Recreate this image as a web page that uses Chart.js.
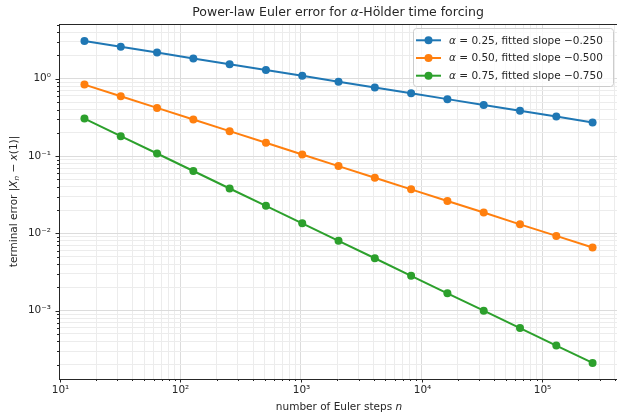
<!DOCTYPE html>
<html>
<head>
<meta charset="utf-8">
<script src="https://cdn.jsdelivr.net/npm/chart.js@4"></script>
<style>
  html, body { margin: 0; padding: 0; background: #fff; }
  canvas { display: block; }
</style>
</head>
<body>
<canvas id="errChart" width="617" height="413"></canvas>
<script>
// number of Euler steps n
const steps = [16, 32, 64, 128, 256, 512, 1024, 2048, 4096, 8192, 16384, 32768, 65536, 131072, 262144];

// terminal error
const errA025 = [3.08, 2.59, 2.18, 1.83, 1.54, 1.30, 1.09, 0.916, 0.770, 0.648, 0.545, 0.458, 0.385, 0.324, 0.272];
const errA050 = [0.84, 0.594, 0.420, 0.297, 0.210, 0.1485, 0.105, 0.0742, 0.0525, 0.0371, 0.0263, 0.0186, 0.0131, 0.00928, 0.00656];
const errA075 = [0.305, 0.181, 0.108, 0.0641, 0.0381, 0.0227, 0.0135, 0.00801, 0.00477, 0.00283, 0.00168, 0.00100, 0.000596, 0.000354, 0.000211];

const alphas = ["0.25", "0.50", "0.75"];
const slopes = ["−0.250", "−0.500", "−0.750"];
const seriesColors = ["#1f77b4", "#ff7f0e", "#2ca02c"];

const FONT = '"DejaVu Sans", sans-serif';
const INK = "#262626";

// text runs, some in italic (math parts in the original)
const titleRuns = [{ t: "Power-law Euler error for " }, { t: "α", i: 1 }, { t: "-Hölder time forcing" }];
const xTitleRuns = [{ t: "number of Euler steps " }, { t: "n", i: 1 }];
const yTitleRuns = [{ t: "terminal error |" }, { t: "X", i: 1 }, { t: "n", i: 1, sub: 1 }, { t: " − " }, { t: "x", i: 1 }, { t: "(1)|" }];

// superscript helper for 10^k labels
const supMap = { "-": "⁻", "0": "⁰", "1": "¹", "2": "²", "3": "³", "4": "⁴", "5": "⁵", "6": "⁶", "7": "⁷", "8": "⁸", "9": "⁹" };
const powLabel = k => "10" + String(k).split("").map(c => supMap[c]).join("");

const isPow10 = v => Math.abs(Math.log10(v) - Math.round(Math.log10(v))) < 1e-9;

// 1..9 x 10^k ticks inside the range
const logTicks = (min, max) => {
    const out = [];
    for (let e = Math.floor(Math.log10(min)); e <= Math.ceil(Math.log10(max)); e++) {
        for (let m = 1; m < 10; m++) {
            const v = m * Math.pow(10, e);
            if (v >= min * 0.9999 && v <= max * 1.0001) out.push(v);
        }
    }
    return out;
};

const gridColor = ctx => (ctx.tick && isPow10(ctx.tick.value)) ? "#dcdcdc" : "#ececec";

const runFont = (r, size) => `${r.i ? "italic " : ""}${r.sub ? size * 0.7 : size}px ${FONT}`;

// draws runs of text; align "center" or "left" at x
const drawRuns = (ctx, runs, x, y, size, align) => {
    let total = 0;
    runs.forEach(r => { ctx.font = runFont(r, size); total += ctx.measureText(r.t).width; });
    let cx = align === "center" ? x - total / 2 : x;
    ctx.textAlign = "left";
    ctx.textBaseline = "middle";
    runs.forEach(r => {
        ctx.font = runFont(r, size);
        ctx.fillText(r.t, cx, r.sub ? y + size * 0.25 : y);
        cx += ctx.measureText(r.t).width;
    });
};

const decor = {
    id: "decor",
    afterDraw(chart) {
        const { ctx, chartArea: a, scales } = chart;
        ctx.save();

        // top spine
        ctx.strokeStyle = INK;
        ctx.lineWidth = 1;
        ctx.beginPath();
        ctx.moveTo(a.left, a.top + 0.5);
        ctx.lineTo(a.right, a.top + 0.5);
        ctx.stroke();

        // tick marks, major and minor, plus x tick labels
        ctx.fillStyle = INK;
        ctx.font = `10.5px ${FONT}`;
        ctx.textAlign = "center";
        ctx.textBaseline = "top";
        scales.x.ticks.forEach(t => {
            const px = Math.round(scales.x.getPixelForValue(t.value)) + 0.5;
            const major = isPow10(t.value);
            ctx.beginPath();
            ctx.moveTo(px, a.bottom);
            ctx.lineTo(px, a.bottom + (major ? 3.5 : 2));
            ctx.stroke();
            if (major) ctx.fillText(powLabel(Math.round(Math.log10(t.value))), px, a.bottom + 6);
        });
        scales.y.ticks.forEach(t => {
            const py = Math.round(scales.y.getPixelForValue(t.value)) + 0.5;
            const len = isPow10(t.value) ? 3.5 : 2;
            ctx.beginPath();
            ctx.moveTo(a.left, py);
            ctx.lineTo(a.left - len, py);
            ctx.stroke();
        });

        // title and axis titles
        drawRuns(ctx, titleRuns, 338, 13, 12.5, "center");
        drawRuns(ctx, xTitleRuns, 339, 407, 10.5, "center");

        ctx.save();
        ctx.translate(14, (a.top + a.bottom) / 2);
        ctx.rotate(-Math.PI / 2);
        drawRuns(ctx, yTitleRuns, 0, 0, 10.5, "center");
        ctx.restore();

        // legend
        const box = { x: 413, y: 28, w: 200, h: 58 };
        ctx.fillStyle = "rgba(255,255,255,0.8)";
        ctx.strokeStyle = "#cccccc";
        ctx.lineWidth = 1;
        ctx.beginPath();
        ctx.roundRect(box.x + 0.5, box.y + 0.5, box.w, box.h, 3);
        ctx.fill();
        ctx.stroke();

        chart.data.datasets.forEach((ds, i) => {
            const y = 40.3 + i * 17.7;
            ctx.strokeStyle = ds.borderColor;
            ctx.lineWidth = 2;
            ctx.beginPath();
            ctx.moveTo(416, y);
            ctx.lineTo(441, y);
            ctx.stroke();
            ctx.fillStyle = ds.backgroundColor;
            ctx.beginPath();
            ctx.arc(428.5, y, 4, 0, Math.PI * 2);
            ctx.fill();
            ctx.fillStyle = INK;
            drawRuns(ctx, [{ t: "α", i: 1 }, { t: ` = ${alphas[i]}, fitted slope ${slopes[i]}` }], 449, y + 0.5, 10.5, "left");
        });

        ctx.restore();
    }
};

const makeSet = (i, data) => ({
    label: `α = ${alphas[i]}, fitted slope ${slopes[i]}`,
    data: steps.map((n, k) => ({ x: n, y: data[k] })),
    borderColor: seriesColors[i],
    backgroundColor: seriesColors[i],
    borderWidth: 2,
    pointRadius: 4,
    pointHoverRadius: 4,
    pointBorderWidth: 0,
    fill: false,
    tension: 0
});

const xMin = Math.pow(10, 0.993), xMax = Math.pow(10, 5.621);
const yMin = Math.pow(10, -3.883), yMax = Math.pow(10, 0.708);

new Chart(document.getElementById("errChart").getContext("2d"), {
    type: "line",
    data: {
        datasets: [makeSet(0, errA025), makeSet(1, errA050), makeSet(2, errA075)]
    },
    options: {
        responsive: false,
        animation: false,
        devicePixelRatio: 1,
        // no automatic padding for point overflow: the plot runs to the right edge
        layout: { autoPadding: false, padding: { top: 24, right: 0, bottom: 0, left: 0 } },
        plugins: {
            legend: { display: false },
            title: { display: false },
            tooltip: { enabled: false }
        },
        scales: {
            x: {
                type: "logarithmic",
                min: xMin,
                max: xMax,
                afterFit: s => { s.height = 34; },
                afterBuildTicks: s => { s.ticks = logTicks(xMin, xMax).map(v => ({ value: v })); },
                grid: { color: gridColor, lineWidth: 1, drawTicks: false },
                border: { display: true, color: INK, width: 1 },
                // labels drawn by the decor plugin
                ticks: { display: false, autoSkip: false }
            },
            y: {
                type: "logarithmic",
                min: yMin,
                max: yMax,
                afterFit: s => { s.width = 59; },
                afterBuildTicks: s => { s.ticks = logTicks(yMin, yMax).map(v => ({ value: v })); },
                grid: { color: gridColor, lineWidth: 1, drawTicks: false },
                border: { display: true, color: INK, width: 1 },
                ticks: {
                    autoSkip: false,
                    padding: 8,
                    color: INK,
                    font: { family: FONT, size: 10.5 },
                    callback: v => isPow10(v) ? powLabel(Math.round(Math.log10(v))) : ""
                }
            }
        }
    },
    plugins: [decor]
});
</script>
</body>
</html>
